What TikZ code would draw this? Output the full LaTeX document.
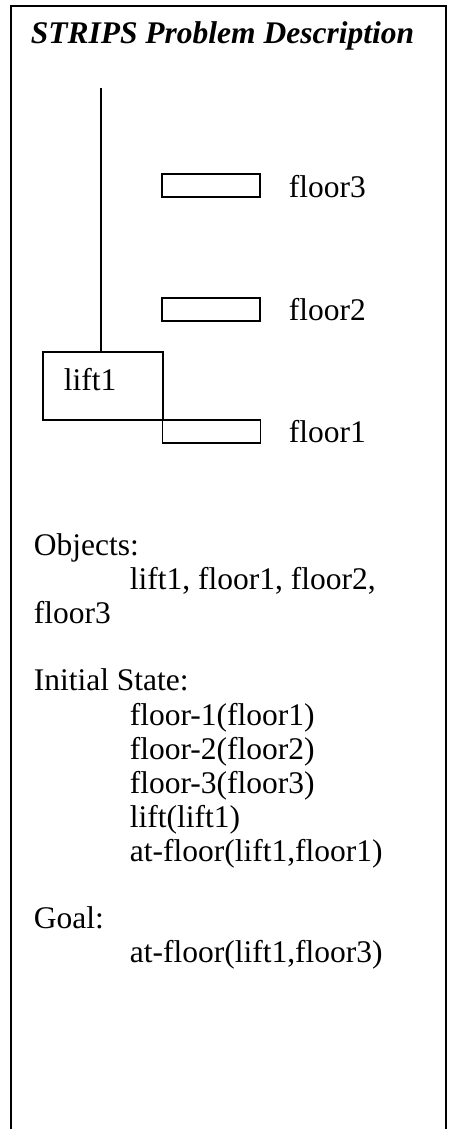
\documentclass[tikz,border=0pt]{standalone}
\usepackage{fontspec}
\setmainfont{Liberation Serif}
\tikzset{
  txt/.style={anchor=base west,inner sep=0pt,font=\fontsize{31.5}{34}\selectfont},
  floorbox/.style={draw,line width=1.6pt,minimum width=98pt,minimum height=23pt,inner sep=0pt}
}
\begin{document}
\begin{tikzpicture}[x=1pt,y=-1pt,line width=1.6pt]
    \useasboundingbox (0,0) rectangle (448,1129);
    \draw (11,1129) -- (11,6) -- (446,6) -- (446,1129);
    \node[txt,font=\fontsize{31.5}{34}\selectfont\bfseries\itshape] (title) at (30,44) {STRIPS Problem Description};

    % floors
    \node[floorbox] (f3) at (211,185.5) {};
    \node[floorbox] (f2) at (211,309.5) {};
    \node[floorbox] (f1) at (211.5,431.5) {};
    \node[txt] (f3lab) at (288,197) {floor3};
    \node[txt] (f2lab) at (288,320) {floor2};
    \node[txt] (f1lab) at (288,442) {floor1};

    % lift and shaft
    \node[draw,line width=1.6pt,minimum width=120pt,minimum height=68pt,inner sep=0pt] (lift) at (103,386) {};
    \node[txt] (liftlab) at (63,390) {lift1};
    \coordinate (shafttop) at (101,88);
    \draw (shafttop) -- (shafttop |- lift.north);

    % description
    \node[txt] (obj) at (33,555) {Objects:};
    \node[txt] (obj1) at (129,589) {lift1, floor1, floor2,};
    \node[txt] (obj2) at (33,623) {floor3};

    \node[txt] (init) at (33,690) {Initial State:};
    \node[txt] (i1) at (129,725) {floor-1(floor1)};
    \node[txt] (i2) at (129,759) {floor-2(floor2)};
    \node[txt] (i3) at (129,793) {floor-3(floor3)};
    \node[txt] (i4) at (129,827) {lift(lift1)};
    \node[txt] (i5) at (129,861) {at-floor(lift1,floor1)};

    \node[txt] (goal) at (33,928) {Goal:};
    \node[txt] (g1) at (129,962) {at-floor(lift1,floor3)};
  \end{tikzpicture}
\end{document}
